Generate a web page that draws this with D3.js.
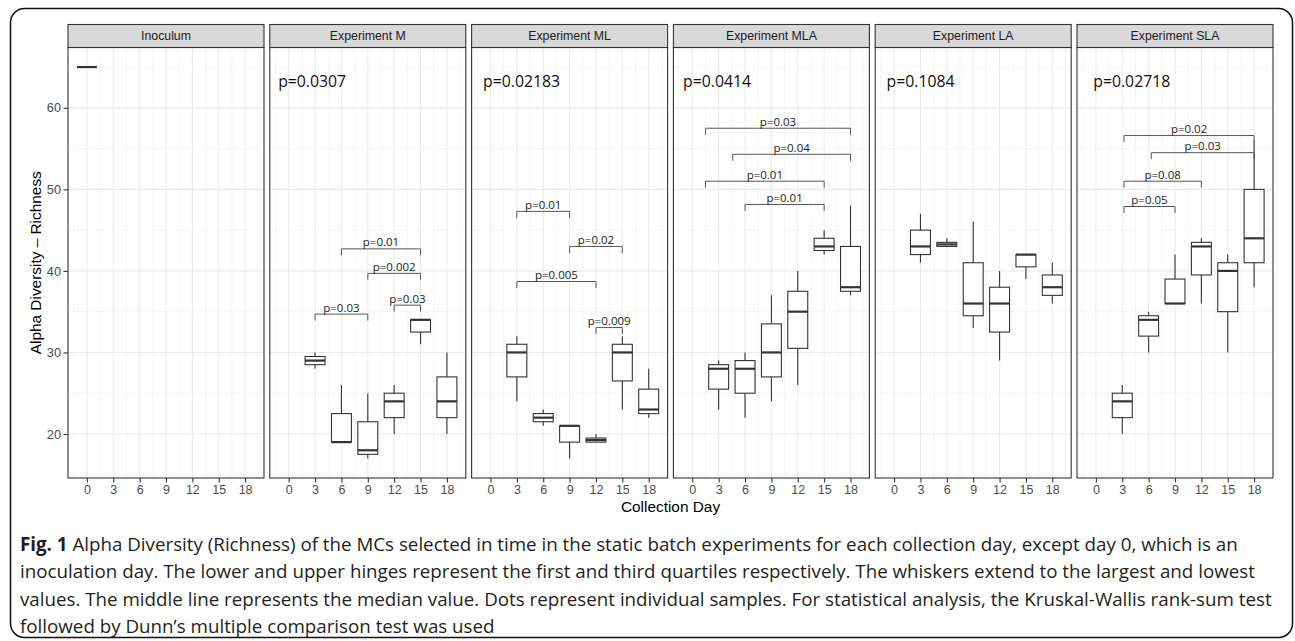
<!DOCTYPE html>
<html>
<head>
<meta charset="utf-8">
<script src="https://cdn.jsdelivr.net/npm/d3@7"></script>
<style>
  body { margin: 0; background: #fff; }
  svg { display: block; }
</style>
</head>
<body>
<svg id="chart" width="1295" height="641"></svg>
<script>
// panels and axes
var panelNames = ["Inoculum", "Experiment M", "Experiment ML", "Experiment MLA", "Experiment LA", "Experiment SLA"];
var xTicks = [0, 3, 6, 9, 12, 15, 18];
var yTicks = [20, 30, 40, 50, 60];
var boxDays = [3, 6, 9, 12, 15, 18];

// [min, q1, median, q3, max] for each collection day
var inoculum = [[65, 65, 65, 65, 65]];
var expM   = [[28, 28.5, 29, 29.5, 30], [19, 19, 19, 22.5, 26], [17, 17.5, 18, 21.5, 25], [20, 22, 24, 25, 26], [31, 32.5, 34, 34, 34], [20, 22, 24, 27, 30]];
var expML  = [[24, 27, 30, 31, 32], [21, 21.5, 22, 22.5, 23], [17, 19, 21, 21, 21], [19, 19, 19.25, 19.5, 20], [23, 26.5, 30, 31, 32], [22, 22.5, 23, 25.5, 28]];
var expMLA = [[23, 25.5, 28, 28.5, 29], [22, 25, 28, 29, 30], [24, 27, 30, 33.5, 37], [26, 30.5, 35, 37.5, 40], [42, 42.5, 43, 44, 45], [37, 37.5, 38, 43, 48]];
var expLA  = [[41, 42, 43, 45, 47], [43, 43, 43.25, 43.5, 44], [33, 34.5, 36, 41, 46], [29, 32.5, 36, 38, 40], [39, 40.5, 42, 42, 42], [36, 37, 38, 39.5, 41]];
var expSLA = [[20, 22, 24, 25, 26], [30, 32, 34, 34.5, 35], [36, 36, 36, 39, 42], [36, 39.5, 43, 43.5, 44], [30, 35, 40, 41, 42], [38, 41, 44, 50, 56]];

// Kruskal-Wallis p value per panel and where it was placed (day units)
var kwLabels = ["", "p=0.0307", "p=0.02183", "p=0.0414", "p=0.1084", "p=0.02718"];
var kwX = [0, -1.2, -0.85, -1.05, -0.85, -0.3];
var kwY = 62.5;

// Dunn brackets: [from day, to day, height, label]
var bracketsM   = [[6, 15, 42.7, "p=0.01"], [9, 15, 39.7, "p=0.002"], [12, 15, 35.8, "p=0.03"], [3, 9, 34.7, "p=0.03"]];
var bracketsML  = [[3, 9, 47.3, "p=0.01"], [9, 15, 43.0, "p=0.02"], [3, 12, 38.7, "p=0.005"], [12, 15, 33.05, "p=0.009"]];
var bracketsMLA = [[1.5, 18, 57.5, "p=0.03"], [4.6, 18, 54.3, "p=0.04"], [1.5, 15, 51, "p=0.01"], [6, 15, 48.15, "p=0.01"]];
var bracketsSLA = [[3.2, 18, 56.6, "p=0.02"], [6.3, 18, 54.5, "p=0.03"], [3.2, 12, 51, "p=0.08"], [3.2, 9, 47.9, "p=0.05"]];

var captionLines = [
  "Alpha Diversity (Richness) of the MCs selected in time in the static batch experiments for each collection day, except day 0, which is an",
  "inoculation day. The lower and upper hinges represent the first and third quartiles respectively. The whiskers extend to the largest and lowest",
  "values. The middle line represents the median value. Dots represent individual samples. For statistical analysis, the Kruskal-Wallis rank-sum test",
  "followed by Dunn\u2019s multiple comparison test was used"
];

var panelData = [
  { stats: inoculum, days: [0], brackets: [] },
  { stats: expM, days: boxDays, brackets: bracketsM },
  { stats: expML, days: boxDays, brackets: bracketsML },
  { stats: expMLA, days: boxDays, brackets: bracketsMLA },
  { stats: expLA, days: boxDays, brackets: [] },
  { stats: expSLA, days: boxDays, brackets: bracketsSLA }
];

var svg = d3.select("#chart");

// outer frame of the figure
svg.append("rect")
  .attr("x", 10.5).attr("y", 8.5)
  .attr("width", 1282).attr("height", 629)
  .attr("rx", 14)
  .attr("fill", "none")
  .attr("stroke", "#111")
  .attr("stroke-width", 1.5);

var left = 68, panelW = 196, step = 201.8;
var stripTop = 24.5, stripH = 23;
var panelTop = stripTop + stripH, panelBottom = 478;
var boxWidth = 2.27; // in days

// ggplot style 5% expansion
var allVals = [].concat.apply([], panelData.map(p => [].concat.apply([], p.stats)));
var yMin = d3.min(allVals), yMax = d3.max(allVals);
var yPad = (yMax - yMin) * 0.05;
var y = d3.scaleLinear().domain([yMin - yPad, yMax + yPad]).range([panelBottom, panelTop]);

var xLo = -boxWidth / 2, xHi = 18 + boxWidth / 2;
var xPad = (xHi - xLo) * 0.05;

var minorY = d3.range(15, 70, 10);
var minorX = d3.range(-1.5, 21, 3);

panelData.forEach(function (p, i) {
  var x0 = left + i * step;
  var x = d3.scaleLinear().domain([xLo - xPad, xHi + xPad]).range([x0, x0 + panelW]);
  var g = svg.append("g");

  // background grid
  g.selectAll(".minY").data(minorY).enter().append("line")
    .attr("x1", x0).attr("x2", x0 + panelW)
    .attr("y1", d => y(d)).attr("y2", d => y(d))
    .attr("stroke", "#f2f2f2").attr("stroke-width", 0.8);
  g.selectAll(".minX").data(minorX).enter().append("line")
    .attr("x1", d => x(d)).attr("x2", d => x(d))
    .attr("y1", panelTop).attr("y2", panelBottom)
    .attr("stroke", "#f2f2f2").attr("stroke-width", 0.8);
  g.selectAll(".majY").data(yTicks).enter().append("line")
    .attr("x1", x0).attr("x2", x0 + panelW)
    .attr("y1", d => y(d)).attr("y2", d => y(d))
    .attr("stroke", "#ebebeb").attr("stroke-width", 1.1);
  g.selectAll(".majX").data(xTicks).enter().append("line")
    .attr("x1", d => x(d)).attr("x2", d => x(d))
    .attr("y1", panelTop).attr("y2", panelBottom)
    .attr("stroke", "#ebebeb").attr("stroke-width", 1.1);

  // boxes
  var boxes = g.selectAll(".box").data(p.stats).enter().append("g");
  boxes.append("line")
    .attr("x1", (d, j) => x(p.days[j])).attr("x2", (d, j) => x(p.days[j]))
    .attr("y1", d => y(d[4])).attr("y2", d => y(d[0]))
    .attr("stroke", "#333").attr("stroke-width", 1.1);
  boxes.append("rect")
    .attr("x", (d, j) => x(p.days[j] - boxWidth / 2))
    .attr("width", (d, j) => x(p.days[j] + boxWidth / 2) - x(p.days[j] - boxWidth / 2))
    .attr("y", d => y(d[3]))
    .attr("height", d => y(d[1]) - y(d[3]))
    .attr("fill", "#fff").attr("stroke", "#333").attr("stroke-width", 1.1);
  boxes.append("line")
    .attr("x1", (d, j) => x(p.days[j] - boxWidth / 2))
    .attr("x2", (d, j) => x(p.days[j] + boxWidth / 2))
    .attr("y1", d => y(d[2])).attr("y2", d => y(d[2]))
    .attr("stroke", "#333").attr("stroke-width", 2.2);

  // Dunn comparison brackets
  var br = g.selectAll(".br").data(p.brackets).enter().append("g");
  br.append("path")
    .attr("d", d => "M" + x(d[0]) + "," + (y(d[2]) + 6.5) + "V" + y(d[2]) + "H" + x(d[1]) + "V" + (y(d[2]) + 6.5))
    .attr("fill", "none").attr("stroke", "#555").attr("stroke-width", 1);
  br.append("text")
    .attr("x", d => (x(d[0]) + x(d[1])) / 2)
    .attr("y", d => y(d[2]) - 2.5)
    .attr("text-anchor", "middle")
    .attr("font-family", "Open Sans, sans-serif")
    .attr("font-size", 11.5)
    .attr("fill", "#222")
    .text(d => d[3]);

  // Kruskal-Wallis p value
  if (kwLabels[i]) {
    g.append("text")
      .attr("x", x(kwX[i])).attr("y", y(kwY))
      .attr("font-family", "Open Sans, sans-serif")
      .attr("font-size", 15.8)
      .attr("fill", "#111")
      .text(kwLabels[i]);
  }

  // panel border
  g.append("rect")
    .attr("x", x0).attr("y", panelTop).attr("width", panelW).attr("height", panelBottom - panelTop)
    .attr("fill", "none").attr("stroke", "#333").attr("stroke-width", 1.1);

  // strip
  g.append("rect")
    .attr("x", x0).attr("y", stripTop).attr("width", panelW).attr("height", stripH)
    .attr("fill", "#d9d9d9").attr("stroke", "#333").attr("stroke-width", 1.1);
  g.append("text")
    .attr("x", x0 + panelW / 2).attr("y", stripTop + stripH / 2 + 4.3)
    .attr("text-anchor", "middle")
    .attr("font-family", "Liberation Sans, Arial, sans-serif")
    .attr("font-size", 12.3)
    .attr("fill", "#1a1a1a")
    .text(panelNames[i]);

  // x axis
  var xa = svg.append("g")
    .attr("transform", "translate(0," + panelBottom + ")")
    .call(d3.axisBottom(x).tickValues(xTicks).tickSize(4.5).tickPadding(2.5));
  xa.select(".domain").remove();
  xa.selectAll(".tick line").attr("stroke", "#333").attr("stroke-width", 1.1);
  xa.selectAll(".tick text")
    .attr("fill", "#4d4d4d")
    .style("font-family", "Liberation Sans, Arial, sans-serif")
    .style("font-size", "12.5px");
});

// y axis on the first panel
var ya = svg.append("g")
  .attr("transform", "translate(" + left + ",0)")
  .call(d3.axisLeft(y).tickValues(yTicks).tickSize(4.5).tickPadding(2.5));
ya.select(".domain").remove();
ya.selectAll(".tick line").attr("stroke", "#333").attr("stroke-width", 1.1);
ya.selectAll(".tick text")
  .attr("fill", "#4d4d4d")
  .style("font-family", "Liberation Sans, Arial, sans-serif")
  .style("font-size", "12.8px");

// axis titles
svg.append("text")
  .attr("transform", "translate(41," + ((panelTop + panelBottom) / 2) + ") rotate(-90)")
  .attr("text-anchor", "middle")
  .attr("font-family", "Liberation Sans, Arial, sans-serif")
  .attr("font-size", 15.4)
  .attr("fill", "#000")
  .text("Alpha Diversity \u2013 Richness");

svg.append("text")
  .attr("x", left + (5 * step + panelW) / 2).attr("y", panelBottom + 34)
  .attr("text-anchor", "middle")
  .attr("font-family", "Liberation Sans, Arial, sans-serif")
  .attr("font-size", 15.4)
  .attr("fill", "#000")
  .text("Collection Day");

// caption
var cap = svg.append("g")
  .attr("font-family", "Open Sans, sans-serif")
  .attr("fill", "#231f20");
var capLines = captionLines.map(function (line, i) {
  var t = cap.append("text").attr("x", 20).attr("y", 551 + i * 27.3).attr("font-size", 16);
  if (i === 0) {
    t.append("tspan").attr("font-weight", "bold").text("Fig. 1");
    t.append("tspan").text(" " + line);
  } else {
    t.text(line);
  }
  return t;
});
// fit the first line to the width it has in the figure
var w0 = capLines[0].node().getComputedTextLength();
var fs = 16 * 1218 / w0;
capLines.forEach(t => t.attr("font-size", fs));
</script>
</body>
</html>
